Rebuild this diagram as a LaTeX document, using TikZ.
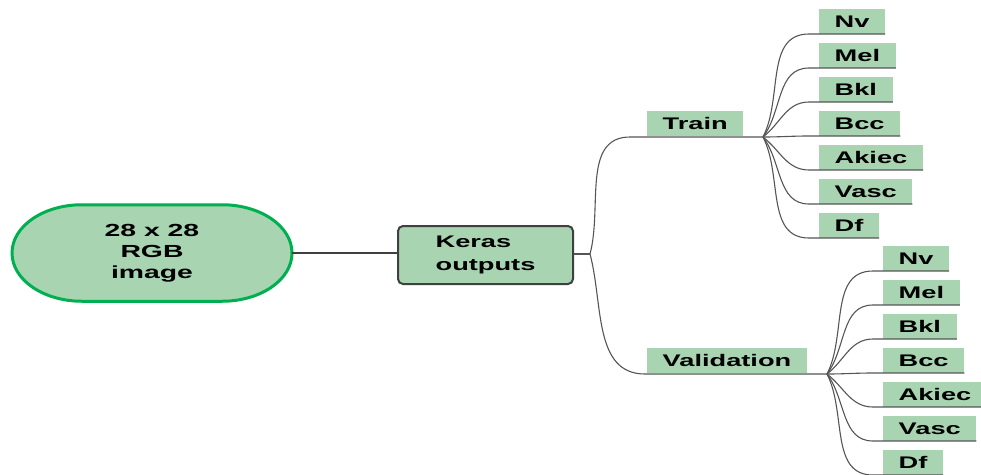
\documentclass[tikz,border=0pt]{standalone}
\usepackage{fontspec}
\setmainfont{Liberation Sans}[FakeStretch=1.62]
\definecolor{mint}{RGB}{168,212,178}
\definecolor{termgreen}{RGB}{0,176,80}
\definecolor{edgegray}{RGB}{85,85,85}
\definecolor{darkedge}{RGB}{64,64,64}
\begin{document}
\begin{tikzpicture}[x=1pt,y=-1pt,
  lbl/.style={font=\fontsize{16.8}{22}\selectfont\bfseries, text=black},
  leaf/.style={lbl, fill=mint, inner xsep=15.5pt, inner ysep=0pt,
    minimum height=25pt, anchor=south west},
  branch/.style={draw=edgegray, line width=1.1pt},
  trunk/.style={draw=darkedge, line width=2.6pt}]
\useasboundingbox (0,0) rectangle (981,474);

% root terminator: a flattened oval
\path[draw=termgreen, line width=3pt, fill=mint]
  (12,253) .. controls (12,226.2) and (43.4,204.75) .. (82,204.75)
  -- (222,204.75) .. controls (260.6,204.75) and (292,226.2) .. (292,253)
  .. controls (292,279.8) and (260.6,301.25) .. (222,301.25)
  -- (82,301.25) .. controls (43.4,301.25) and (12,279.8) .. cycle;
\node[minimum width=280pt, minimum height=97pt, inner sep=0pt, align=center,
  font=\fontsize{17.5}{21}\selectfont\bfseries] (img) at (152,253)
  {28 x 28\\RGB\\image};

% Keras box
\node[draw=darkedge, line width=2pt, fill=mint, rounded corners=5pt,
  minimum width=175pt, minimum height=58pt, align=left,
  font=\fontsize{16.8}{23}\selectfont\bfseries] (keras) at (485.5,255)
  {Keras\\outputs};

\draw[trunk] (img.east) -- (img.east -| keras.west);

% split into train / validation
\coordinate (fork) at (590,254);
\draw[branch] (keras.east |- fork) -- (fork);

\node[leaf] (train) at (647,136) {Train};
\node[leaf] (valid) at (647,373) {Validation};
\coordinate (tfork) at (763,137);
\coordinate (vfork) at (827,374);

\draw[branch] (fork) to[out=75,in=180] (630,137) -- (tfork);
\draw[branch] (fork) to[out=-75,in=180] (645,374) -- (vfork);

% class leaves
\foreach \grp/\lx/\by in {t/819/136, v/883/373}{
  \foreach \name/\k/\ang in {Nv/-3/63, Mel/-2/53, Bkl/-1/38, Bcc/0/0,
      Akiec/1/-38, Vasc/2/-53, Df/3/-63}{
    \node[leaf] (\grp\name) at (\lx,\by+34*\k) {\name};
    \draw[branch] (\grp fork) to[out=\ang,in=180]
      ([xshift=-10pt]\grp\name.south west) -- (\grp\name.south east);
  }
}
\end{tikzpicture}
\end{document}
